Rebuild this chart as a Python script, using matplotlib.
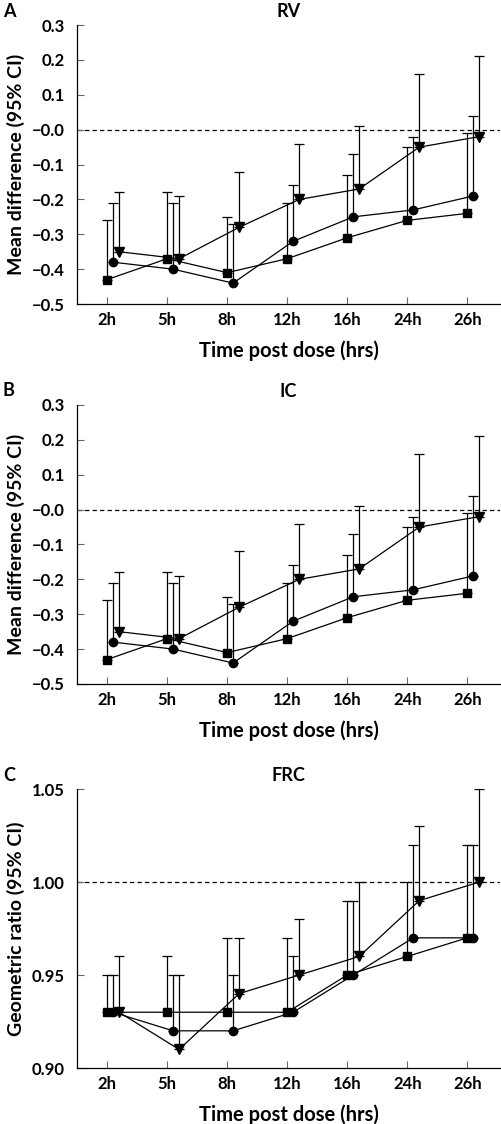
import numpy as np
import matplotlib
matplotlib.use("Agg")
import matplotlib.pyplot as plt

plt.rcParams['font.family'] = ['Lato', 'DejaVu Sans']
plt.rcParams['font.weight'] = 'bold'

times = ["2h", "5h", "8h", "12h", "16h", "24h", "26h"]

# RV (panel A): mean difference and upper 95% CI
rv_sq = [-0.43, -0.37, -0.41, -0.37, -0.31, -0.26, -0.24]
rv_sq_up = [-0.26, -0.18, -0.25, -0.21, -0.13, -0.05, -0.01]
rv_ci = [-0.38, -0.40, -0.44, -0.32, -0.25, -0.23, -0.19]
rv_ci_up = [-0.21, -0.21, -0.27, -0.16, -0.07, -0.02, 0.04]
rv_tri = [-0.35, -0.37, -0.28, -0.20, -0.17, -0.05, -0.02]
rv_tri_up = [-0.18, -0.19, -0.12, -0.04, 0.01, 0.16, 0.21]

# IC (panel B)
ic_sq = [-0.43, -0.37, -0.41, -0.37, -0.31, -0.26, -0.24]
ic_sq_up = [-0.26, -0.18, -0.25, -0.21, -0.13, -0.05, -0.01]
ic_ci = [-0.38, -0.40, -0.44, -0.32, -0.25, -0.23, -0.19]
ic_ci_up = [-0.21, -0.21, -0.27, -0.16, -0.07, -0.02, 0.04]
ic_tri = [-0.35, -0.37, -0.28, -0.20, -0.17, -0.05, -0.02]
ic_tri_up = [-0.18, -0.19, -0.12, -0.04, 0.01, 0.16, 0.21]

# FRC (panel C): geometric ratio and upper 95% CI
frc_sq = [0.93, 0.93, 0.93, 0.93, 0.95, 0.96, 0.97]
frc_sq_up = [0.95, 0.96, 0.97, 0.97, 0.99, 1.00, 1.02]
frc_ci = [0.93, 0.92, 0.92, 0.93, 0.95, 0.97, 0.97]
frc_ci_up = [0.95, 0.95, 0.95, 0.96, 0.99, 1.02, 1.02]
frc_tri = [0.93, 0.91, 0.94, 0.95, 0.96, 0.99, 1.00]
frc_tri_up = [0.96, 0.95, 0.97, 0.98, 1.00, 1.03, 1.05]

ab_ticks = [-0.5, -0.4, -0.3, -0.2, -0.1, 0.0, 0.1, 0.2, 0.3]
ab_labels = ["\u22120.5", "\u22120.4", "\u22120.3", "\u22120.2", "\u22120.1", "\u22120.0", "0.1", "0.2", "0.3"]
c_ticks = [0.90, 0.95, 1.00, 1.05]
c_labels = ["0.90", "0.95", "1.00", "1.05"]

fig = plt.figure(figsize=(5.01, 11.24), dpi=100)

panels = [
    ("A", "RV", "Mean difference (95% CI)", [(rv_sq, rv_sq_up), (rv_ci, rv_ci_up), (rv_tri, rv_tri_up)],
     ab_ticks, ab_labels, 0.0, 0.7295),
    ("B", "IC", "Mean difference (95% CI)", [(ic_sq, ic_sq_up), (ic_ci, ic_ci_up), (ic_tri, ic_tri_up)],
     ab_ticks, ab_labels, 0.0, 0.3915),
    ("C", "FRC", "Geometric ratio (95% CI)", [(frc_sq, frc_sq_up), (frc_ci, frc_ci_up), (frc_tri, frc_tri_up)],
     c_ticks, c_labels, 1.0, 0.0498),
]

markers = ["s", "o", "v"]
msizes = [5.5, 6.0, 7.0]
offsets = [0.0, 0.1, 0.2]
x = np.arange(len(times))

for letter, title, ylabel, series, yt, ytl, ref, bottom in panels:
    ax = fig.add_axes([0.1537, bottom, 0.845, 0.2482])
    ax.axhline(ref, color="black", lw=0.9, ls=(0, (3.5, 2.5)), zorder=1)
    for (mean, up), m, ms, off in zip(series, markers, msizes, offsets):
        mean = np.array(mean)
        up = np.array(up)
        xx = x + off
        # one-sided (upper) confidence interval
        ax.errorbar(xx, mean, yerr=[np.zeros_like(mean), up - mean], fmt="none",
                    ecolor="black", elinewidth=0.9, capsize=3.5, capthick=0.9, zorder=2)
        ax.plot(xx, mean, color="black", lw=0.9, marker=m, ms=ms, mfc="black", mec="black", zorder=3)
    ax.set_xlim(-0.5, 6.55)
    ax.set_ylim(yt[0], yt[-1])
    ax.set_xticks(x)
    ax.set_xticklabels(times)
    ax.set_yticks(yt)
    ax.set_yticklabels(ytl)
    ax.tick_params(direction="in", length=5, width=0.8, color="#666666", labelsize=12)
    ax.tick_params(axis="x", pad=6)
    ax.tick_params(axis="y", pad=9)
    for s in ["top", "right"]:
        ax.spines[s].set_visible(False)
    for s in ["left", "bottom"]:
        ax.spines[s].set_linewidth(0.9)
    ax.set_title(title, fontsize=13, fontweight="bold", pad=6)
    ax.set_xlabel("Time post dose (hrs)", fontsize=14.5, fontweight="bold")
    ax.set_ylabel(ylabel, fontsize=14, fontweight="bold")
    ax.xaxis.set_label_coords(0.5, -0.13)
    ax.yaxis.set_label_coords(-0.124, 0.5)
    fig.text(3 / 501, bottom + 0.2482 + 14 / 1124, letter, fontsize=13, fontweight="bold",
             ha="left", va="center")

fig.savefig("out.png", dpi=100)
